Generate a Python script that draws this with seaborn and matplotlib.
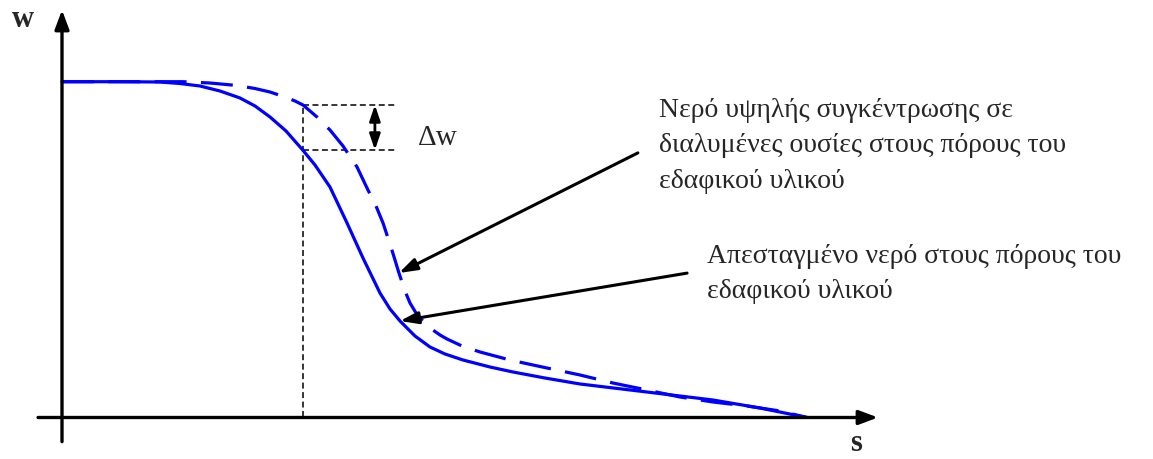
import matplotlib
matplotlib.use("Agg")
import matplotlib.pyplot as plt
from matplotlib.transforms import offset_copy
import seaborn as sns

# Water retention curves, w against suction s (normalised units)
s_distilled = [0.0000, 0.0779, 0.1315, 0.1584, 0.1852, 0.2121, 0.2389, 0.2591,
               0.2792, 0.3007, 0.3231, 0.3396, 0.3597, 0.3826, 0.4040, 0.4268,
               0.4403, 0.4537, 0.4738, 0.4940, 0.5141, 0.5383, 0.5745, 0.6054,
               0.6483, 0.6953, 0.7852, 0.8738, 0.9369, 1.0000]
w_distilled = [1.0000, 1.0000, 0.9991, 0.9946, 0.9872, 0.9723, 0.9515, 0.9276,
               0.8949, 0.8532, 0.7966, 0.7519, 0.6864, 0.5792, 0.4750, 0.3708,
               0.3231, 0.2874, 0.2427, 0.2099, 0.1891, 0.1712, 0.1504, 0.1355,
               0.1176, 0.0998, 0.0759, 0.0521, 0.0283, 0.0000]

s_saline = [0.0000, 0.1624, 0.1987, 0.2349, 0.2591, 0.2792, 0.2993, 0.3128,
            0.3235, 0.3423, 0.3597, 0.3772, 0.3960, 0.4107, 0.4215, 0.4309,
            0.4416, 0.4523, 0.4604, 0.4671, 0.4752, 0.4832, 0.4940, 0.5074,
            0.5168, 0.5369, 0.5611, 0.6013, 0.6510, 0.6953, 0.7396, 0.7852,
            0.8295, 0.8738, 0.9195, 0.9638, 1.0000]
w_saline = [1.0000, 1.0000, 0.9961, 0.9887, 0.9797, 0.9693, 0.9544, 0.9425,
            0.9306, 0.8949, 0.8562, 0.8085, 0.7460, 0.6775, 0.6298, 0.5792,
            0.5077, 0.4303, 0.3767, 0.3410, 0.3112, 0.2903, 0.2665, 0.2457,
            0.2338, 0.2129, 0.1951, 0.1712, 0.1474, 0.1266, 0.1027, 0.0819,
            0.0610, 0.0462, 0.0342, 0.0194, 0.0000]

# Point of each curve where the water-content difference is marked
ref_index_saline = 8
ref_index_distilled = 10
# Points on each curve that the callouts point to
tip_index_saline = 17
tip_index_distilled = 17

label_saline = ["Νερό υψηλής συγκέντρωσης σε",
                "διαλυμένες ουσίες στους πόρους του",
                "εδαφικού υλικού"]
label_distilled = ["Απεσταγμένο νερό στους πόρους του",
                   "εδαφικού υλικού"]
label_delta = "\u0394w"
label_x = "s"
label_y = "w"

sns.set_theme(style="white")
plt.rcParams["font.family"] = ["Liberation Serif", "DejaVu Serif"]

fig = plt.figure(figsize=(11.53, 4.59), dpi=100)
ax = fig.add_axes([0, 0, 1, 1])
ax.set_xlim(-0.08322, 1.46443)
ax.set_ylim(-0.12359, 1.24330)
ax.axis("off")

BLUE = "#0000ff"

ref_s = s_saline[ref_index_saline]
ref_w_top = w_saline[ref_index_saline]
ref_w_bottom = w_distilled[ref_index_distilled]

# Guide lines for the water-content difference
guide = dict(color="black", lw=1.1, linestyle=(0, (3.9, 2.3)), zorder=2)
ax.plot([ref_s, ref_s], [0, ref_w_top], **guide)
ax.plot([ref_s, 0.447], [ref_w_top, ref_w_top], **guide)
ax.plot([ref_s, 0.447], [ref_w_bottom, ref_w_bottom], **guide)

# Curves
sns.lineplot(x=s_distilled, y=w_distilled, ax=ax, color=BLUE, lw=2.3,
             sort=False, estimator=None, zorder=3)
sns.lineplot(x=s_saline, y=w_saline, ax=ax, color=BLUE, lw=2.3,
             sort=False, estimator=None, linestyle=(0, (10, 4.5)), zorder=3)

# Coordinate axes with arrow heads
axis_kw = dict(arrowstyle="-|>,head_length=1.15,head_width=0.43", color="black",
               lw=2.4, shrinkA=0, shrinkB=0, mutation_scale=10)
ax.annotate("", xy=(0, 1.2135), xytext=(0, -0.072), arrowprops=axis_kw, zorder=4)
ax.annotate("", xy=(1.0953, 0), xytext=(-0.0322, 0), arrowprops=axis_kw, zorder=4)

ax.text(-0.0671, 1.1629, label_y, fontsize=22, fontweight="bold",
        ha="left", va="baseline")
ax.text(1.0577, -0.1000, label_x, fontsize=22, fontweight="bold",
        ha="left", va="baseline")

# Double arrow showing the difference
ax.annotate("", xy=(0.420, ref_w_top), xytext=(0.420, ref_w_bottom),
            arrowprops=dict(arrowstyle="<|-|>,head_length=0.94,head_width=0.32",
                            color="black", lw=2.0, shrinkA=0, shrinkB=0,
                            mutation_scale=10))
ax.text(0.4779, 0.8115, label_delta, fontsize=21, ha="left", va="baseline")

# Callouts
call_kw = dict(arrowstyle="-|>,head_length=1.08,head_width=0.36", color="black",
               lw=2.2, shrinkA=0, shrinkB=0, mutation_scale=10)
ax.annotate("", xy=(s_saline[tip_index_saline], w_saline[tip_index_saline]),
            xytext=(0.773, 0.788), arrowprops=call_kw, zorder=5)
ax.annotate("", xy=(s_distilled[tip_index_distilled], w_distilled[tip_index_distilled]),
            xytext=(0.839, 0.430), arrowprops=call_kw, zorder=5)

pitch = 25.5  # points between baselines
for anchor, lines in (((0.8013, 0.8949), label_saline),
                      ((0.8658, 0.4601), label_distilled)):
    for k, line in enumerate(lines):
        tr = offset_copy(ax.transData, fig=fig, y=-k * pitch, units="points")
        ax.text(anchor[0], anchor[1], line, transform=tr, fontsize=20,
                ha="left", va="baseline")

fig.savefig("out.png", dpi=100)
